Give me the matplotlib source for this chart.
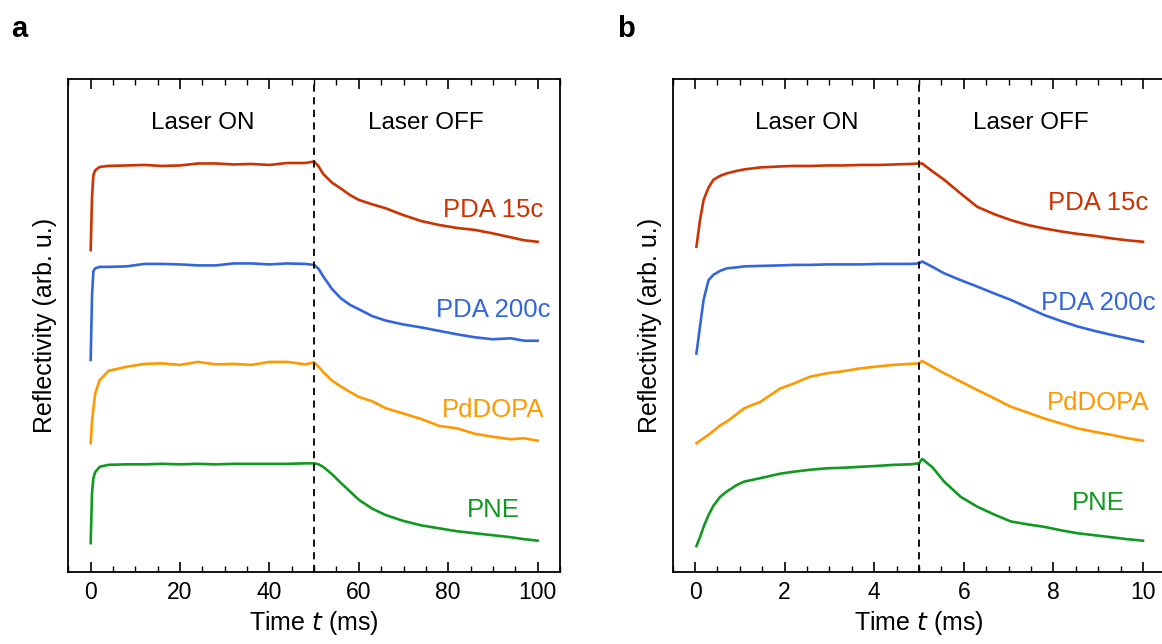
import matplotlib.pyplot as plt
from matplotlib.ticker import MultipleLocator

plt.rcParams['font.family'] = ['Liberation Sans', 'DejaVu Sans']

# panel a: 0-100 ms, laser off at 50 ms
t_a = [0, 0.3, 0.6, 1, 2, 4, 8, 12, 16, 20, 24, 28, 32, 36, 40, 44, 48, 50,
       51, 52, 54, 56, 58, 60, 63, 66, 70, 74, 78, 82, 86, 90, 94, 97, 100]
pda15_a = [65.3, 76.0, 80.5, 81.5, 82.2, 82.4, 82.5, 82.6, 82.4, 82.5, 82.9, 82.9,
           82.7, 82.8, 82.6, 83.0, 83.0, 83.3,
           82.3, 80.8, 79.0, 77.8, 76.5, 75.5, 74.6, 73.8, 72.4, 71.2, 70.4,
           69.8, 69.4, 68.7, 67.9, 67.3, 67.0]
pda200_a = [43.0, 56.0, 61.0, 61.6, 61.9, 61.9, 62.0, 62.5, 62.5, 62.4, 62.2, 62.2,
            62.6, 62.6, 62.4, 62.6, 62.5, 62.3,
            61.5, 60.0, 57.4, 55.5, 54.2, 53.3, 51.9, 51.0, 50.2, 49.6, 48.9,
            48.2, 47.6, 47.2, 47.4, 46.9, 46.9]
pddopa_a = [26.1, 30.5, 33.0, 36.2, 38.9, 40.8, 41.6, 42.2, 42.3, 42.0, 42.6, 42.1,
            42.2, 42.0, 42.6, 42.6, 42.1, 42.5,
            41.6, 40.6, 38.8, 37.6, 36.5, 35.5, 34.6, 33.2, 32.1, 31.0, 29.6,
            29.1, 28.0, 27.4, 26.9, 27.1, 26.6]
pne_a = [5.8, 16.0, 19.0, 20.2, 21.3, 21.7, 21.8, 21.8, 21.9, 21.8, 21.9, 21.8,
         21.9, 21.9, 21.9, 21.9, 22.0, 22.0,
         21.8, 21.3, 19.8, 18.0, 16.3, 14.6, 12.8, 11.5, 10.3, 9.4, 8.8,
         8.2, 7.8, 7.4, 7.0, 6.6, 6.3]

# panel b: 0-10 ms, laser off at 5 ms
t_b = [0.03, 0.11, 0.19, 0.3, 0.41, 0.56, 0.71, 0.93, 1.1, 1.46, 1.9, 2.2, 2.57, 2.95,
       3.3, 3.7, 4.1, 4.44, 4.8, 5.0, 5.07, 5.3, 5.56, 5.93, 6.3, 6.68, 7.05,
       7.43, 7.8, 8.17, 8.54, 8.92, 9.29, 9.65, 10.0]
pda15_b = [66.0, 71.4, 75.5, 78.0, 79.6, 80.4, 80.9, 81.4, 81.7, 82.1, 82.3, 82.4,
           82.4, 82.5, 82.5, 82.6, 82.6, 82.7, 82.8, 82.9, 82.9,
           81.3, 79.6, 76.8, 74.1, 72.6, 71.4, 70.4, 69.7, 69.1, 68.6, 68.2, 67.7, 67.3, 67.0]
pda200_b = [44.3, 49.8, 55.2, 59.2, 60.3, 61.1, 61.6, 61.8, 62.0, 62.1, 62.2, 62.3,
            62.3, 62.4, 62.4, 62.4, 62.5, 62.5, 62.5, 62.6, 63.0,
            61.9, 60.6, 59.2, 57.9, 56.5, 55.2, 53.6, 52.1, 50.9, 49.8, 48.9, 48.1, 47.4, 46.7]
pddopa_b = [26.1, 26.6, 27.1, 27.8, 28.6, 29.7, 30.5, 32.0, 33.2, 34.5, 37.2, 38.2,
            39.6, 40.3, 40.7, 41.3, 41.7, 42.0, 42.2, 42.3, 42.8,
            41.6, 40.3, 38.6, 36.9, 35.2, 33.5, 32.3, 31.1, 30.1, 29.1, 28.4, 27.8, 27.1, 26.6]
pne_b = [5.2, 7.0, 9.1, 11.5, 13.4, 15.2, 16.3, 17.6, 18.3, 19.0, 19.9, 20.3,
         20.7, 21.0, 21.1, 21.3, 21.5, 21.7, 21.8, 22.0, 22.9,
         21.2, 18.3, 15.2, 13.2, 11.6, 10.2, 9.6, 9.1, 8.4, 7.8, 7.4, 7.0, 6.6, 6.3]

names = ['PDA 15c', 'PDA 200c', 'PdDOPA', 'PNE']
colors = ['#cc3300', '#3366dd', '#ff9900', '#119922']
label_y_a = [73.5, 53.1, 32.8, 12.5]
label_y_b = [74.8, 54.5, 34.2, 13.9]

fig = plt.figure(figsize=(11.62, 6.44), dpi=100)
ax_a = fig.add_axes([0.0588, 0.1123, 0.4231, 0.7646])
ax_b = fig.add_axes([0.5789, 0.1123, 0.4240, 0.7646])

panels = [
    (ax_a, t_a, [pda15_a, pda200_a, pddopa_a, pne_a], label_y_a, 50, 100, 20, 5),
    (ax_b, t_b, [pda15_b, pda200_b, pddopa_b, pne_b], label_y_b, 5, 10, 2, 0.5),
]

for ax, t, series, label_y, t_off, t_end, major, minor in panels:
    for ys, c in zip(series, colors):
        ax.plot(t, ys, color=c, lw=1.9)
    ax.axvline(t_off, color='black', ls=(0, (4, 3)), lw=1.3)
    pad = t_end * 0.05
    ax.set_xlim(-pad, t_end + pad)
    ax.set_ylim(0, 100)
    for name, c, ly in zip(names, colors, label_y):
        ax.text(t_end * 0.9, ly, name, color=c, fontsize=18.5, ha='center', va='center')
    ax.text(t_off * 0.5, 91.2, 'Laser ON', fontsize=17.5, ha='center', va='center')
    ax.text(t_off * 1.5, 91.2, 'Laser OFF', fontsize=17.5, ha='center', va='center')
    ax.xaxis.set_major_locator(MultipleLocator(major))
    ax.xaxis.set_minor_locator(MultipleLocator(minor))
    ax.tick_params(axis='x', which='major', direction='in', top=True, length=7, width=1.2,
                   labelsize=16.5, pad=7)
    ax.tick_params(axis='x', which='minor', direction='in', top=True, length=4, width=1)
    ax.set_yticks([])
    for s in ax.spines.values():
        s.set_linewidth(1.3)
    ax.set_xlabel('Time $\\it{t}$ (ms)', fontsize=18, labelpad=3)
    ax.set_ylabel('Reflectivity (arb. u.)', fontsize=18, labelpad=8)

fig.text(0.010, 0.955, 'a', fontsize=21, fontweight='bold', va='center')
fig.text(0.531, 0.955, 'b', fontsize=21, fontweight='bold', va='center')

plt.savefig('out.png', dpi=100)
